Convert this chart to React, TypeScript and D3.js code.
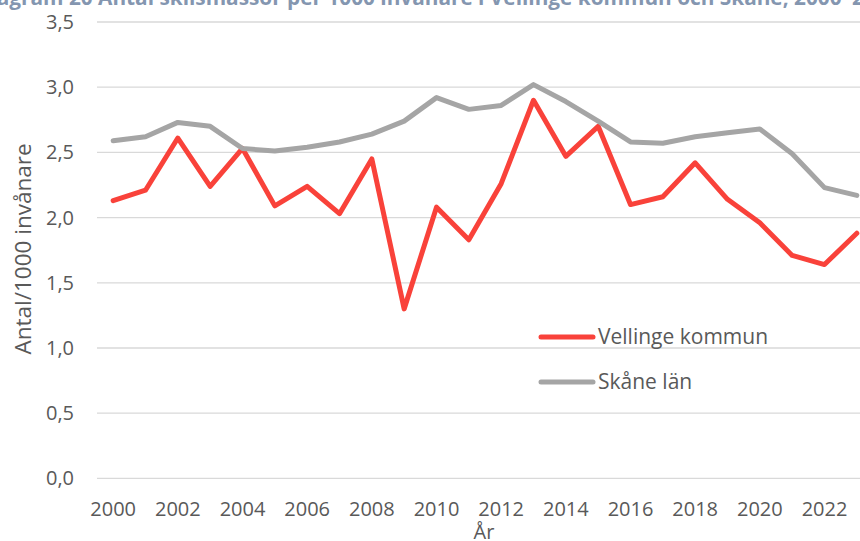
import React from 'react';
import * as d3 from 'd3';

const years = d3.range(2000, 2024).map(String);
const vellinge = [2.13, 2.21, 2.61, 2.24, 2.53, 2.09, 2.24, 2.03, 2.45, 1.30, 2.08, 1.83,
  2.26, 2.90, 2.47, 2.70, 2.10, 2.16, 2.42, 2.14, 1.96, 1.71, 1.64, 1.88];
const skane = [2.59, 2.62, 2.73, 2.70, 2.53, 2.51, 2.54, 2.58, 2.64, 2.74, 2.92, 2.83,
  2.86, 3.02, 2.89, 2.74, 2.58, 2.57, 2.62, 2.65, 2.68, 2.49, 2.23, 2.17];
const yTicks = [0, 0.5, 1, 1.5, 2, 2.5, 3, 3.5];
const xTickLabels = years.filter((y, i) => i % 2 === 0);
const series = [
  { name: 'Vellinge kommun', values: vellinge, color: '#F9423A' },
  { name: 'Skåne län', values: skane, color: '#A5A5A5' },
];

const width = 860;
const height = 541;
const font = '"Open Sans", sans-serif';

const xScale = d3.scaleBand().domain(years).range([97, 873]);
const yScale = d3.scaleLinear().domain([0, 3.5]).range([478.4, 22]);
const xc = (y) => xScale(y) + xScale.bandwidth() / 2;

const fmt = (v) => v.toFixed(1).replace('.', ',');

export default function App() {
  const line = d3.line()
    .x((d, i) => xc(years[i]))
    .y((d) => yScale(d));
  return (
    <svg width={width} height={height} style={{ position: 'absolute', left: 0, top: 0 }}>
      <rect width={width} height={height} fill="#fff" />
      {/* title is clipped by the top edge in the original */}
      <text x={-25} y={5} fontFamily={font} fontSize={20.8} fontWeight="bold" fill="#8496B0">
        Diagram 20 Antal skilsmässor per 1000 invånare i Vellinge kommun och Skåne, 2000–2023
      </text>
      {yTicks.map((t) => (
        <g key={t}>
          <line x1={97} x2={width} y1={yScale(t)} y2={yScale(t)} stroke="#D9D9D9" strokeWidth={1.3} />
          <text x={74} y={yScale(t)} dy="0.35em" textAnchor="end" fontFamily={font} fontSize={20} fill="#595959">
            {fmt(t)}
          </text>
        </g>
      ))}
      {xTickLabels.map((y) => (
        <text key={y} x={xc(y)} y={516} textAnchor="middle" fontFamily={font} fontSize={20} fill="#595959">
          {y}
        </text>
      ))}
      <text x={484} y={539} textAnchor="middle" fontFamily={font} fontSize={20} fill="#595959">År</text>
      <text transform="translate(31,249) rotate(-90)" textAnchor="middle" fontFamily={font} fontSize={22.5} fill="#595959">
        Antal/1000 invånare
      </text>
      {series.map((s) => (
        <path key={s.name} d={line(s.values)} fill="none" stroke={s.color} strokeWidth={5}
          strokeLinejoin="round" strokeLinecap="round" />
      ))}
      {series.map((s, i) => (
        <g key={s.name} transform={`translate(0,${337 + i * 45})`}>
          <line x1={541} x2={593} y1={0} y2={0} stroke={s.color} strokeWidth={5} strokeLinecap="round" />
          <text x={598} y={0} dy="0.35em" fontFamily={font} fontSize={21} fill="#595959">{s.name}</text>
        </g>
      ))}
    </svg>
  );
}
